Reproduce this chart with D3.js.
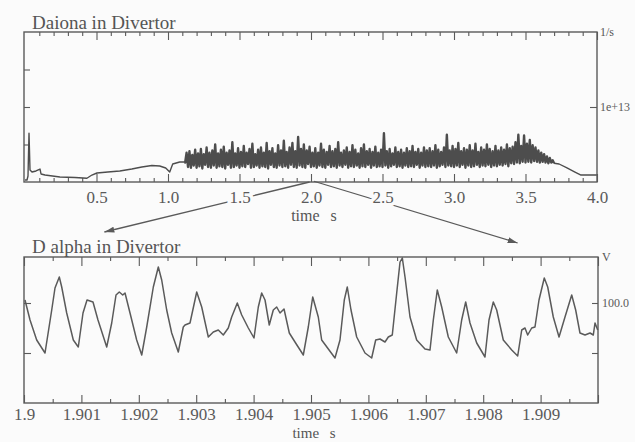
<!DOCTYPE html>
<html>
<head>
<meta charset="utf-8">
<script src="https://cdn.jsdelivr.net/npm/d3@7"></script>
<style>
    body { margin: 0; background: #fbfbfb; }
    svg { display: block; }
    .title, .unit { font-family: "Liberation Serif", serif; fill: #555; }
</style>
</head>
<body>
<svg id="chart" width="635" height="442"></svg>
<script>
(function (d3) {

    // ---- data: upper panel, D alpha photon flux (units of 1e12 /s) ----
    var fluxEarlyT = [0, 0.014, 0.021, 0.028, 0.035, 0.049, 0.077, 0.105, 0.112, 0.14, 0.244, 0.349, 0.433,
        0.468, 0.503, 0.579, 0.663, 0.747, 0.817, 0.887, 0.942, 0.984, 1.012, 1.033, 1.082, 1.117];
    var fluxEarlyV = [0.27, 0.27, 0.8, 6.5, 1.6, 1.33, 1.47, 1.73, 1.07, 0.93, 0.67, 0.6, 0.5,
        0.93, 1.2, 1.33, 1.47, 1.73, 2.0, 2.2, 2.13, 1.87, 1.33, 2.4, 2.67, 2.67];

    // sampled every 10 ms from 1.12 s to 3.70 s
    var fluxBandStart = 1.12, fluxBandStep = 0.01;
    var fluxBandV = [
        2.6, 3.9, 2.0, 4.1, 1.9, 3.6, 2.2, 4.3, 1.9, 3.8,
        2.1, 4.4, 1.8, 3.7, 2.3, 4.6, 2.0, 3.9, 1.9, 4.2,
        2.2, 5.0, 1.9, 3.8, 2.1, 4.3, 2.0, 4.7, 1.8, 3.9,
        2.3, 4.2, 1.9, 5.3, 2.0, 3.8, 2.2, 4.5, 1.9, 4.0,
        2.1, 4.8, 2.0, 3.9, 2.4, 4.4, 1.9, 5.1, 2.0, 3.7,
        2.2, 4.3, 1.9, 4.6, 2.1, 3.9, 2.0, 5.2, 1.8, 4.1,
        2.3, 4.5, 2.0, 3.8, 1.9, 4.9, 2.2, 4.2, 2.0, 5.5,
        2.1, 4.0, 1.9, 4.6, 2.3, 5.2, 2.0, 4.1, 1.9, 6.0,
        2.2, 4.4, 2.0, 5.0, 1.9, 4.2, 2.4, 4.7, 2.0, 3.9,
        2.1, 4.5, 1.9, 3.9, 2.2, 5.1, 2.0, 4.3, 1.9, 4.0,
        2.3, 4.8, 2.0, 4.1, 2.1, 4.4, 1.9, 5.3, 2.2, 3.9,
        2.0, 4.2, 2.3, 4.6, 1.9, 4.0, 2.1, 4.9, 2.0, 4.3,
        2.2, 3.8, 1.9, 4.5, 2.1, 5.0, 2.0, 4.1, 2.3, 4.4,
        1.9, 4.0, 2.2, 4.7, 2.0, 3.9, 2.1, 4.3, 2.0, 6.5,
        2.2, 4.1, 1.9, 4.4, 2.1, 3.8, 2.3, 4.6, 2.0, 4.0,
        2.1, 4.3, 1.9, 3.9, 2.2, 4.5, 2.0, 4.1, 2.1, 4.8,
        2.0, 4.0, 2.3, 4.4, 1.9, 3.9, 2.2, 4.6, 2.0, 4.2,
        2.1, 4.5, 2.0, 4.1, 2.2, 4.9, 1.9, 4.3, 2.1, 4.0,
        2.3, 4.6, 2.0, 6.3, 2.2, 4.2, 2.1, 4.8, 2.0, 4.4,
        2.2, 5.2, 2.0, 4.1, 2.3, 4.5, 1.9, 4.3, 2.2, 4.9,
        2.0, 4.2, 2.1, 5.1, 2.3, 4.0, 2.0, 4.6, 2.2, 4.3,
        2.1, 5.0, 2.3, 4.4, 2.0, 4.1, 2.2, 4.8, 2.1, 4.2,
        2.3, 4.6, 2.2, 4.3, 2.4, 5.0, 2.1, 4.5, 2.5, 4.7,
        2.4, 5.3, 2.6, 6.3, 2.5, 4.8, 2.7, 6.2, 2.6, 5.1,
        2.7, 5.6, 2.6, 4.9, 2.8, 4.6, 2.7, 4.2, 2.6, 3.9,
        2.7, 3.7, 2.6, 3.4, 2.5, 3.2, 2.6, 2.9, 2.5
    ];
    var fluxTailT = [3.735, 3.79, 3.846, 3.888, 4.0];
    var fluxTailV = [2.4, 1.87, 1.33, 0.93, 0.93];

    var fluxTicks = [0.5, 1.0, 1.5, 2.0, 2.5, 3.0, 3.5, 4.0];
    var fluxTickLabels = ["0.5", "1.0", "1.5", "2.0", "2.5", "3.0", "3.5", "4.0"];
    var fluxYTicks = [5, 10, 15];
    var fluxYLabelTick = 10, fluxYLabel = "1e+13";

    // ---- data: lower panel, D alpha signal (V), time in ms after 1.9 s ----
    var dalphaMs = [0.017, 0.105, 0.221, 0.366, 0.483, 0.540, 0.615, 0.657, 0.744, 0.859,
        0.946, 1.028, 1.098, 1.202, 1.289, 1.441, 1.528, 1.603, 1.660, 1.720,
        1.760, 1.847, 1.963, 2.051, 2.138, 2.253, 2.340, 2.399, 2.486, 2.573,
        2.688, 2.775, 2.805, 2.892, 3.009, 3.096, 3.211, 3.298, 3.385, 3.472,
        3.559, 3.618, 3.716, 3.793, 3.908, 4.007, 4.082, 4.141, 4.199, 4.273,
        4.343, 4.402, 4.460, 4.530, 4.622, 4.721, 4.866, 4.953, 5.030, 5.127,
        5.186, 5.418, 5.505, 5.580, 5.632, 5.697, 5.796, 5.941, 6.057, 6.127,
        6.202, 6.289, 6.347, 6.416, 6.493, 6.551, 6.591, 6.638, 6.725, 6.841,
        6.986, 7.073, 7.131, 7.200, 7.277, 7.392, 7.538, 7.625, 7.695, 7.770,
        7.887, 8.031, 8.101, 8.176, 8.235, 8.350, 8.497, 8.601, 8.671, 8.728,
        8.775, 8.845, 8.902, 8.972, 9.064, 9.124, 9.221, 9.321, 9.425, 9.542,
        9.611, 9.686, 9.774, 9.861, 9.918, 9.948, 9.995];
    var dalphaV = [103, 83, 63, 50, 93, 115, 126, 116, 90, 63,
        56, 90, 103, 101, 83, 56, 80, 108, 111, 108,
        110, 90, 63, 48, 76, 116, 136, 123, 93, 70,
        51, 76, 78, 80, 111, 96, 66, 71, 73, 68,
        75, 86, 100, 88, 75, 65, 96, 110, 103, 78,
        93, 96, 90, 94, 70, 61, 48, 76, 106, 86,
        63, 45, 63, 103, 116, 93, 66, 50, 45, 63,
        64, 61, 66, 68, 110, 141, 145, 126, 86, 63,
        54, 53, 83, 113, 96, 66, 50, 83, 101, 80,
        60, 46, 83, 101, 93, 63, 53, 47, 73, 75,
        68, 75, 76, 103, 125, 116, 86, 66, 86, 108,
        93, 70, 68, 70, 68, 80, 73];

    var dalphaTicks = [1.9, 1.901, 1.902, 1.903, 1.904, 1.905, 1.906, 1.907, 1.908, 1.909];
    var dalphaTickLabels = ["1.9", "1.901", "1.902", "1.903", "1.904", "1.905", "1.906", "1.907", "1.908", "1.909"];
    var dalphaYTicks = [50, 100];
    var dalphaYLabels = ["", "100.0"];

    // ---- layout ----
    var bg = "#fbfbfb", ink = "#5a5a5a", font = '"Liberation Serif", serif';
    var pa = { left: 24, right: 597, top: 32, bottom: 182 };
    var pb = { left: 24, right: 598, top: 257, bottom: 403 };

    var xFlux = d3.scaleLinear().domain([0, 4]).range([pa.left + 1, pa.right]);
    var yFlux = d3.scaleLinear().domain([0, 20]).range([pa.bottom, pa.top]);
    var xDal = d3.scaleLinear().domain([1.9, 1.91]).range([pb.left, pb.right]);
    var yDal = d3.scaleLinear().domain([0, 146]).range([pb.bottom, pb.top]);

    var svg = d3.select("#chart");

    svg.append("rect").attr("width", 635).attr("height", 442).attr("fill", bg);

    svg.append("defs").append("marker")
        .attr("id", "head")
        .attr("viewBox", "0 0 10 6")
        .attr("refX", 10).attr("refY", 3)
        .attr("markerWidth", 10).attr("markerHeight", 6)
        .attr("markerUnits", "userSpaceOnUse")
        .attr("orient", "auto")
        .append("path").attr("d", "M0,0L10,3L0,6Z").attr("fill", ink);

    // build the flux series: slow parts and the dense ELM band
    var fluxEarly = fluxEarlyT.map(function (t, i) { return { t: t, v: fluxEarlyV[i] }; });
    var fluxBand = fluxBandV.map(function (v, i) { return { t: fluxBandStart + i * fluxBandStep, v: v }; });
    var fluxTail = fluxTailT.map(function (t, i) { return { t: t, v: fluxTailV[i] }; });
    fluxBand.unshift(fluxEarly[fluxEarly.length - 1]);
    fluxTail.unshift(fluxBand[fluxBand.length - 1]);

    var dalpha = dalphaMs.map(function (ms, i) { return { t: 1.9 + ms / 1000, v: dalphaV[i] }; });

    // zoom arrows from the upper time axis down to the lower panel
    var arrows = [
        { from: 1.99, fromY: 0, to: 1.9014, dy: -25 },
        { from: 2.02, fromY: 0.1, to: 1.9086, dy: -14 }
    ];
    svg.append("g").selectAll("line").data(arrows).enter().append("line")
        .attr("x1", function (d) { return xFlux(d.from); })
        .attr("y1", function (d) { return yFlux(d.fromY); })
        .attr("x2", function (d) { return xDal(d.to); })
        .attr("y2", function (d) { return pb.top + d.dy; })
        .attr("stroke", ink)
        .attr("stroke-width", 1.3)
        .attr("marker-end", "url(#head)");

    function near(a, b) { return Math.abs(a - b) < 1e-7; }

    function styleAxis(g, size) {
        g.select(".domain").remove();
        g.attr("color", ink).attr("font-family", font).attr("font-size", size);
        g.selectAll(".tick line").attr("stroke-width", 1.1);
    }

    // ---- upper panel ----
    var fluxMinor = d3.range(1, 41).map(function (i) { return i / 10; });
    function fluxMajor(d) { return fluxTicks.some(function (t) { return near(t, d); }); }

    svg.append("g")
        .attr("transform", "translate(0," + pa.bottom + ")")
        .call(d3.axisBottom(xFlux).tickValues(fluxMinor).tickSize(-4).tickPadding(9)
            .tickFormat(function (d) {
                var i = fluxTicks.findIndex(function (t) { return near(t, d); });
                return i < 0 ? "" : fluxTickLabels[i];
            }))
        .call(function (g) {
            styleAxis(g, 17);
            g.selectAll(".tick line").attr("y2", function (d) { return fluxMajor(d) ? -8 : -4; });
            g.selectAll(".tick text").attr("stroke", bg).attr("stroke-width", 7).attr("paint-order", "stroke");
        });

    svg.append("g")
        .attr("transform", "translate(0," + pa.top + ")")
        .call(d3.axisTop(xFlux).tickValues(fluxMinor).tickSize(-4).tickFormat(""))
        .call(function (g) {
            styleAxis(g, 17);
            g.selectAll(".tick line").attr("y2", function (d) { return fluxMajor(d) ? 8 : 4; });
        });

    svg.append("g")
        .attr("transform", "translate(" + pa.left + ",0)")
        .call(d3.axisLeft(yFlux).tickValues(fluxYTicks).tickSize(-6).tickFormat(""))
        .call(function (g) { styleAxis(g, 12); });

    svg.append("g")
        .attr("transform", "translate(" + pa.right + ",0)")
        .call(d3.axisRight(yFlux).tickValues([fluxYLabelTick]).tickSize(-7).tickPadding(3)
            .tickFormat(function () { return fluxYLabel; }))
        .call(function (g) { styleAxis(g, 12); });

    var fluxLine = d3.line()
        .x(function (d) { return xFlux(d.t); })
        .y(function (d) { return yFlux(d.v); });

    svg.append("g").selectAll("path")
        .data([
            { pts: fluxEarly, w: 1.4 },
            { pts: fluxBand, w: 2.4 },
            { pts: fluxTail, w: 1.4 }
        ])
        .enter().append("path")
        .attr("d", function (d) { return fluxLine(d.pts); })
        .attr("fill", "none")
        .attr("stroke", "#4d4d4d")
        .attr("stroke-width", function (d) { return d.w; })
        .attr("stroke-linejoin", "round");

    svg.append("rect")
        .attr("x", pa.left).attr("y", pa.top)
        .attr("width", pa.right - pa.left).attr("height", pa.bottom - pa.top)
        .attr("fill", "none").attr("stroke", ink).attr("stroke-width", 1.4);

    svg.append("text").attr("class", "title")
        .attr("x", 32).attr("y", 29).attr("font-size", 19)
        .text("Daiona in Divertor");

    svg.append("text").attr("class", "unit")
        .attr("x", pa.right + 3).attr("y", pa.top + 4).attr("font-size", 12)
        .text("1/s");

    svg.append("text").attr("class", "title")
        .attr("x", 314).attr("y", 221).attr("font-size", 16)
        .attr("text-anchor", "middle").attr("word-spacing", 7)
        .text("time s");

    // ---- lower panel ----
    var dalMinor = d3.range(1, 21).map(function (i) { return 1.9 + i * 0.0005; });
    dalMinor.unshift(1.9);
    function dalMajor(d) { return dalphaTicks.some(function (t) { return near(t, d); }) || near(d, 1.91); }

    svg.append("g")
        .attr("transform", "translate(0," + pb.bottom + ")")
        .call(d3.axisBottom(xDal).tickValues(dalMinor).tickSize(-4).tickPadding(5)
            .tickFormat(function (d) {
                var i = dalphaTicks.findIndex(function (t) { return near(t, d); });
                return i < 0 ? "" : dalphaTickLabels[i];
            }))
        .call(function (g) {
            styleAxis(g, 17);
            g.selectAll(".tick line").attr("y2", function (d) { return dalMajor(d) ? -8 : -4; });
        });

    svg.append("g")
        .attr("transform", "translate(0," + pb.top + ")")
        .call(d3.axisTop(xDal).tickValues(dalMinor).tickSize(-4).tickFormat(""))
        .call(function (g) {
            styleAxis(g, 17);
            g.selectAll(".tick line").attr("y2", function (d) { return dalMajor(d) ? 9 : 4; });
        });

    svg.append("g")
        .attr("transform", "translate(" + pb.left + ",0)")
        .call(d3.axisLeft(yDal).tickValues(dalphaYTicks).tickSize(-7).tickFormat(""))
        .call(function (g) { styleAxis(g, 12); });

    svg.append("g")
        .attr("transform", "translate(" + pb.right + ",0)")
        .call(d3.axisRight(yDal).tickValues(dalphaYTicks).tickSize(-6).tickPadding(4)
            .tickFormat(function (d, i) { return dalphaYLabels[i]; }))
        .call(function (g) { styleAxis(g, 12); });

    var dalLine = d3.line()
        .x(function (d) { return xDal(d.t); })
        .y(function (d) { return yDal(d.v); });

    svg.append("path")
        .datum(dalpha)
        .attr("d", dalLine)
        .attr("fill", "none")
        .attr("stroke", ink)
        .attr("stroke-width", 1.5)
        .attr("stroke-linejoin", "round");

    svg.append("rect")
        .attr("x", pb.left).attr("y", pb.top)
        .attr("width", pb.right - pb.left).attr("height", pb.bottom - pb.top)
        .attr("fill", "none").attr("stroke", ink).attr("stroke-width", 1.4);

    svg.append("text").attr("class", "title")
        .attr("x", 32).attr("y", 253).attr("font-size", 19)
        .text("D alpha in Divertor");

    svg.append("text").attr("class", "unit")
        .attr("x", pb.right + 4).attr("y", pb.top + 4).attr("font-size", 12)
        .text("V");

    svg.append("text").attr("class", "title")
        .attr("x", 314).attr("y", 438).attr("font-size", 15)
        .attr("text-anchor", "middle").attr("word-spacing", 7)
        .text("time s");

})(d3);
</script>
</body>
</html>
